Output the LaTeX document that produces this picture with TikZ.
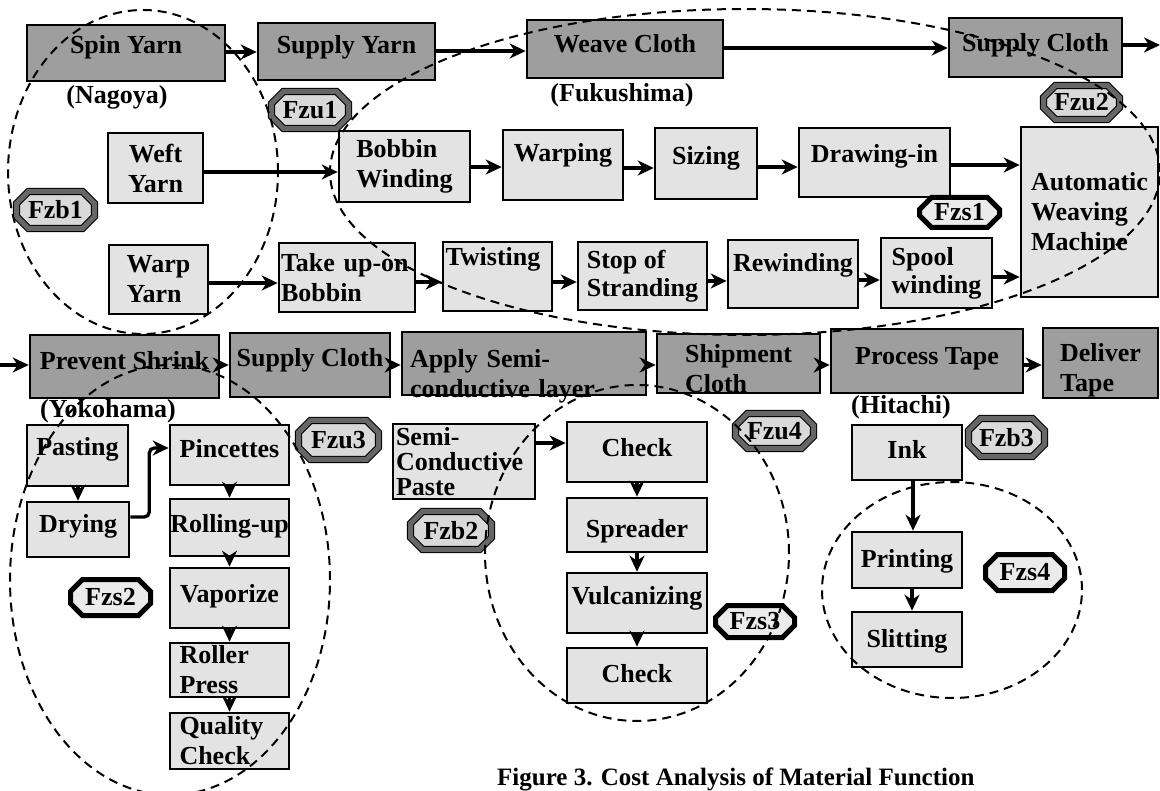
\documentclass[tikz,border=0pt]{standalone}
\usepackage{fontspec}
\setmainfont{Liberation Serif}
\usetikzlibrary{arrows.meta,shapes.misc}
\begin{document}
\begin{tikzpicture}[x=1pt,y=-1pt,
  font=\fontsize{26}{30}\selectfont\bfseries,
  bx/.style 2 args={draw=black, line width=2.6pt, inner sep=0pt, minimum width=#1pt, minimum height=#2pt},
  dk/.style={fill=black!38},
  lt/.style={fill=black!11},
  tx/.style 2 args={text height=#1pt, text depth=#2pt},
  arr/.style={line width=3.3pt, -{Stealth[length=16pt,width=15pt,inset=5pt]}},
  grp/.style={line width=2pt, dash pattern=on 9pt off 6pt},
  tagh/.style={chamfered rectangle, chamfered rectangle xsep=6pt, chamfered rectangle ysep=6pt,
    draw=black, line width=1.2pt, double=black!60, double distance=5pt, fill=black!15, inner sep=0pt},
  tags/.style={chamfered rectangle, chamfered rectangle xsep=6pt, chamfered rectangle ysep=6pt,
    draw=black, line width=5pt, fill=black!8, inner sep=0pt},
  lbl/.style={inner sep=0pt}
]
\useasboundingbox (0,0) rectangle (1160,791);
\fill[white] (0,0) rectangle (1160,791);

% ---------- top row ----------
\node[bx={198}{56}, dk, tx={18}{16.8}] (spin) at (126,53) {Spin Yarn};
\node[bx={177}{57}, dk, tx={18}{13.8}] (syarn) at (346.5,51.5) {Supply Yarn};
\node[bx={196}{58}, dk, tx={18}{10.8}] (weave) at (625,49) {Weave Cloth};
\node[bx={173}{59}, dk, tx={18}{10.8}] (scloth) at (1035.5,47.5) {Supply Cloth};
\coordinate (out1) at (1160,45);
\node[lbl] (nagoya) at (117,97) {(Nagoya)};
\node[lbl] (fukushima) at (622,95) {(Fukushima)};

% ---------- row 2 ----------
\node[bx={95}{70}, lt, align=center] (weft) at (155.5,168) {Weft\\Yarn};
\node[bx={131}{71}, lt, align=left] (bobbin) at (404.5,166.5) {Bobbin\\Winding};
\node[bx={120}{70}, lt, tx={18}{24.8}] (warping) at (563,165) {Warping};
\node[bx={102}{71}, lt, tx={18}{15.8}] (sizing) at (706,163.5) {Sizing};
\node[bx={151}{69}, lt, tx={18}{17.8}] (drawing) at (874.5,162.5) {Drawing-in};
\node[bx={137}{170}, lt, align=left] (awm) at (1089.5,212) {Automatic\\Weaving\\Machine};

% ---------- row 3 ----------
\node[bx={99}{69}, lt, align=left] (warp) at (158.5,279.5) {Warp\\Yarn};
\node[bx={136}{69}, lt, align=left, text width=132pt] (takeup) at (347,277.5) {Take up-on\\Bobbin};
\node[bx={109}{69}, lt, align=left, text width=104pt, tx={18}{40.8}] (twist) at (497.5,276.5) {Twisting};
\node[bx={129}{68}, lt, align=left, font=\fontsize{26}{28}\selectfont\bfseries] (stop) at (642.5,276) {Stop of\\Stranding};
\node[bx={130}{68}, lt, tx={18}{23.8}] (rewind) at (793,274) {Rewinding};
\node[bx={111}{70}, lt, align=left, font=\fontsize{26}{28}\selectfont\bfseries] (spool) at (936.5,273) {Spool\\winding};

% ---------- row 4 ----------
\coordinate (in4) at (0,365);
\node[bx={189}{63}, dk, tx={18}{12.8}] (prevent) at (124.5,366.5) {Prevent Shrink};
\node[bx={160}{64}, dk, tx={18}{15.8}] (scloth2) at (310,365) {Supply Cloth};
\node[bx={244}{63}, dk, align=left, text width=228pt, tx={18}{10}] (apply) at (524,363.5) {Apply Semi-\\conductive layer};
\node[bx={163}{57}, dk, align=left, tx={59}{0}] (ship) at (738.5,363.5) {Shipment\\Cloth};
\node[bx={192}{64}, dk, tx={18}{10.8}] (process) at (927,361) {Process Tape};
\node[bx={115}{70}, dk, align=left, tx={58}{0}] (deliver) at (1100.5,363) {Deliver\\Tape};
\node[lbl] (yokohama) at (108,411) {(Yokohama)};
\node[lbl] (hitachi) at (901,407) {(Hitachi)};

% ---------- bottom left ----------
\node[bx={101}{61}, lt, tx={18}{17.8}] (pasting) at (77.5,455.5) {Pasting};
\node[bx={102}{55}, lt, tx={18}{11.8}] (drying) at (78,529.5) {Drying};
\node[bx={119}{60}, lt, tx={18}{12.8}] (pinc) at (229.5,455) {Pincettes};
\node[bx={119}{57}, lt, tx={18}{8.8}] (rolling) at (229.5,527.5) {Rolling-up};
\node[bx={119}{60}, lt, tx={18}{9.8}] (vapor) at (229.5,598) {Vaporize};
\node[bx={119}{54}, lt, align=left, text width=100pt] (roller) at (229.5,670) {Roller\\Press};
\node[bx={119}{56}, lt, align=left, text width=100pt] (quality) at (229.5,741) {Quality\\Check};

% ---------- bottom middle ----------
\node[bx={142}{75}, lt, align=left, text width=136pt, font=\fontsize{26}{25}\selectfont\bfseries] (semi) at (464,461.5) {Semi-\\Conductive\\Paste};
\node[bx={140}{60}, lt, tx={18}{9.8}] (check1) at (637,452) {Check};
\node[bx={140}{54}, lt, tx={25}{0.8}] (spread) at (637,525) {Spreader};
\node[bx={140}{60}, lt, tx={18}{14.8}] (vulc) at (637,603) {Vulcanizing};
\node[bx={140}{55}, lt, tx={18}{3.8}] (check2) at (637,675.5) {Check};

% ---------- bottom right ----------
\node[bx={110}{55}, lt, tx={18}{5.8}] (ink) at (907,452.5) {Ink};
\node[bx={110}{56}, lt, tx={18}{3.8}] (print) at (907,560) {Printing};
\node[bx={110}{55}, lt, tx={18}{1.8}] (slit) at (907,639.5) {Slitting};

% ---------- tags ----------
\node[tagh, minimum width=77pt, minimum height=37pt] (fzu1) at (310,110) {Fzu1};
\node[tagh, minimum width=78pt, minimum height=37pt] (fzb1) at (55.5,210) {Fzb1};
\node[tagh, minimum width=76pt, minimum height=34pt] (fzu2) at (1081.5,102.5) {Fzu2};
\node[tags, minimum width=80pt, minimum height=30pt] (fzs1) at (959.5,212.5) {Fzs1};
\node[tagh, minimum width=80pt, minimum height=39pt] (fzu3) at (338.5,440) {Fzu3};
\node[tags, minimum width=80pt, minimum height=36pt] (fzs2) at (110.5,597.5) {Fzs2};
\node[tagh, minimum width=81pt, minimum height=38pt] (fzb2) at (451,530.5) {Fzb2};
\node[tagh, minimum width=78pt, minimum height=35pt] (fzu4) at (774.5,431) {Fzu4};
\node[tags, minimum width=79pt, minimum height=32pt] (fzs3) at (755,621.5) {Fzs3};
\node[tagh, minimum width=76pt, minimum height=38pt] (fzb3) at (1006.5,437.5) {Fzb3};
\node[tags, minimum width=79pt, minimum height=36pt] (fzs4) at (1025,572.5) {Fzs4};

% ---------- connectors ----------
\draw[arr] (spin.east |- 0,52) -- (syarn.west |- 0,52);
\draw[arr] (syarn.east |- 0,51) -- (weave.west |- 0,51);
\draw[arr] (weave.east |- 0,48) -- (scloth.west |- 0,48);
\draw[arr] (scloth.east |- out1) -- (out1);

\draw[arr] (weft.east |- 0,172) -- (bobbin.west |- 0,172);
\draw[arr] (bobbin.east |- 0,167) -- (warping.west |- 0,167);
\draw[arr] (warping.east |- 0,168) -- (sizing.west |- 0,168);
\draw[arr] (sizing.east |- 0,167) -- (drawing.west |- 0,167);
\draw[arr] (drawing.east |- 0,165) -- (awm.west |- 0,165);

\draw[arr] (warp.east |- 0,283) -- (takeup.west |- 0,283);
\draw[arr] (takeup.east |- 0,282) -- (twist.west |- 0,282);
\draw[arr] (twist.east |- 0,282) -- (stop.west |- 0,282);
\draw[arr] (stop.east |- 0,281) -- (rewind.west |- 0,281);
\draw[arr] (rewind.east |- 0,280) -- (spool.west |- 0,280);
\draw[arr] (spool.east |- 0,277) -- (awm.west |- 0,277);

\draw[arr] (in4) -- (prevent.west |- in4);
\draw[arr] (prevent.east |- 0,365) -- (scloth2.west |- 0,365);
\draw[arr] (scloth2.east |- 0,365) -- (apply.west |- 0,365);
\draw[arr] (apply.east |- 0,365) -- (ship.west |- 0,365);
\draw[arr] (ship.east |- 0,365) -- (process.west |- 0,365);
\draw[arr] (process.east |- 0,365) -- (deliver.west |- 0,365);

\draw[arr] (pasting.south -| 78,0) -- (drying.north -| 78,0);
\draw[arr, rounded corners=5pt] (drying.east |- 0,517) -- ++(19,0) |- (pinc.west |- 0,448);
\draw[arr] (pinc.south) -- (rolling.north);
\draw[arr] (rolling.south) -- (vapor.north);
\draw[arr] (vapor.south) -- (roller.north);
\draw[arr] (roller.south) -- (quality.north);

\draw[arr] (semi.east |- 0,443) -- (check1.west |- 0,443);
\draw[arr] (check1.south) -- (spread.north);
\draw[arr] (spread.south) -- (vulc.north);
\draw[arr] (vulc.south) -- (check2.north);

\draw[arr] (ink.south -| 913,0) -- (print.north -| 913,0);
\draw[arr] (print.south -| 912,0) -- (slit.north -| 912,0);

% ---------- dashed groupings ----------
\draw[grp] (143,172) ellipse [x radius=135pt, y radius=162pt];
\draw[grp] (745,172) ellipse [x radius=415pt, y radius=163pt];
\draw[grp] (170,580) ellipse [x radius=160pt, y radius=215pt];
\draw[grp] (637,553) ellipse [x radius=152pt, y radius=168pt];
\draw[grp] (952,590) ellipse [x radius=130pt, y radius=108pt];

% ---------- caption ----------
\node[anchor=base west, inner sep=0pt, font=\fontsize{25}{30}\selectfont\bfseries] (caption) at (497,785) {Figure 3. Cost Analysis of Material Function};
\end{tikzpicture}
\end{document}
